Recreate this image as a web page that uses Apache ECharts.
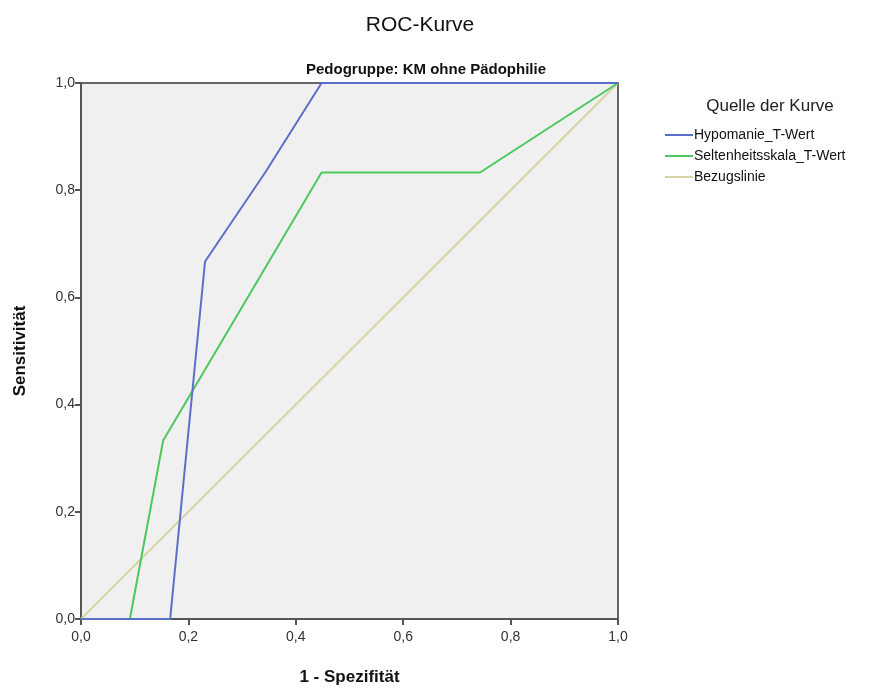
<!DOCTYPE html>
<html>
<head>
<meta charset="utf-8">
<script src="https://cdn.jsdelivr.net/npm/echarts@6/dist/echarts.min.js"></script>
<style>
  html, body { margin: 0; padding: 0; background: #fff; }
  #chart { width: 875px; height: 688px; }
</style>
</head>
<body>
<div id="chart"></div>
<script>
// ROC-Kurve
var hypoX = [0, 0.166, 0.231, 0.343, 0.448, 1.0];
var hypoY = [0, 0, 0.667, 0.833, 1.0, 1.0];
var seltenX = [0, 0.091, 0.153, 0.448, 0.743, 1.0];
var seltenY = [0, 0, 0.333, 0.833, 0.833, 1.0];
var refX = [0, 1];
var refY = [0, 1];
var tickValues = [0, 0.2, 0.4, 0.6, 0.8, 1.0];

function pairs(xs, ys) {
    return xs.map(function (x, i) { return [x, ys[i]]; });
}

var myChart = echarts.init(document.getElementById('chart'));
var font = 'Arial, "Liberation Sans", sans-serif';
var fmt = function (v) { return v.toFixed(1).replace('.', ','); };

var option = {
    backgroundColor: '#ffffff',
    textStyle: { fontFamily: font },
    title: [
        {
            text: 'ROC-Kurve',
            left: 415, top: 10, textAlign: 'center',
            textStyle: { fontSize: 21, fontWeight: 'normal', color: '#111', fontFamily: font }
        },
        {
            text: 'Pedogruppe: KM ohne Pädophilie',
            left: 421, top: 57, textAlign: 'center',
            textStyle: { fontSize: 15, fontWeight: 'bold', color: '#111', fontFamily: font }
        },
        {
            text: 'Quelle der Kurve',
            left: 765, top: 93, textAlign: 'center',
            textStyle: { fontSize: 17, fontWeight: 'normal', color: '#222', fontFamily: font }
        }
    ],
    legend: {
        orient: 'vertical',
        left: 660, top: 123,
        itemWidth: 28, itemHeight: 2, itemGap: 7,
        icon: 'rect',
        textStyle: { fontSize: 14, color: '#111', fontFamily: font, padding: [0, 0, 0, -4] },
        data: ['Hypomanie_T-Wert', 'Seltenheitsskala_T-Wert', 'Bezugslinie']
    },
    grid: {
        left: 81, right: 257, top: 83, bottom: 69,
        outerBoundsMode: 'none',
        containLabel: false,
        show: true,
        backgroundColor: '#f0f0f0',
        borderColor: '#666',
        borderWidth: 2
    },
    xAxis: {
        type: 'value', min: 0, max: 1, interval: 0.2,
        name: '1 - Spezifität', nameLocation: 'middle', nameGap: 50,
        nameTextStyle: { fontSize: 17, fontWeight: 'bold', color: '#111' },
        axisLine: { show: true, lineStyle: { color: '#555', width: 2 } },
        axisTick: { show: true, length: 6, lineStyle: { color: '#555', width: 2 } },
        axisLabel: { fontSize: 14, color: '#333', margin: 11, formatter: fmt },
        splitLine: { show: false }
    },
    yAxis: {
        type: 'value', min: 0, max: 1, interval: 0.2,
        name: 'Sensitivität', nameLocation: 'middle', nameGap: 52,
        nameTextStyle: { fontSize: 17, fontWeight: 'bold', color: '#111' },
        axisLine: { show: true, lineStyle: { color: '#555', width: 2 } },
        axisTick: { show: true, length: 6, lineStyle: { color: '#555', width: 2 } },
        axisLabel: { fontSize: 14, color: '#333', margin: 6, formatter: fmt },
        splitLine: { show: false }
    },
    series: [
        {
            name: 'Hypomanie_T-Wert', type: 'line', symbol: 'none',
            data: pairs(hypoX, hypoY),
            color: '#5a70c8',
            lineStyle: { width: 2, color: '#5a70c8' },
            z: 3
        },
        {
            name: 'Seltenheitsskala_T-Wert', type: 'line', symbol: 'none',
            data: pairs(seltenX, seltenY),
            color: '#4cc85e',
            lineStyle: { width: 2, color: '#4cc85e' },
            z: 2
        },
        {
            name: 'Bezugslinie', type: 'line', symbol: 'none',
            data: pairs(refX, refY),
            color: '#d8d4a4',
            lineStyle: { width: 2, color: '#d8d4a4' },
            z: 1
        }
    ]
};
myChart.setOption(option);
window.addEventListener('resize', function () {
    myChart.resize();
});
</script>
</body>
</html>
